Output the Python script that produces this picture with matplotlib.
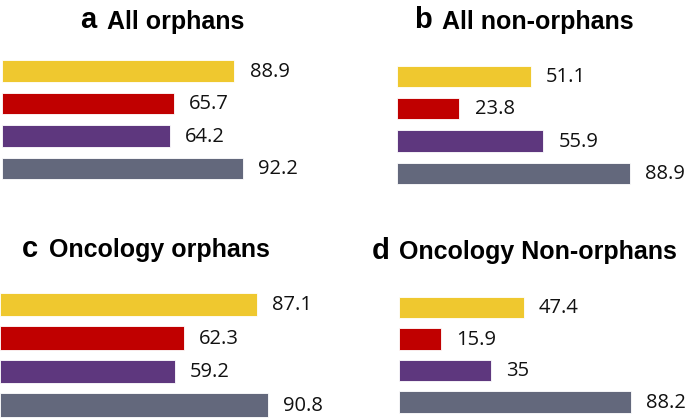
import matplotlib.pyplot as plt

# Four panels, four bars each (top to bottom)
colors = ['#EFC82F', '#C00000', '#5E377E', '#63687C']
letters = ['a', 'b', 'c', 'd']
titles = ['All orphans', 'All non-orphans', 'Oncology orphans', 'Oncology Non-orphans']
vals_a = [88.9, 65.7, 64.2, 92.2]
vals_b = [51.1, 23.8, 55.9, 88.9]
vals_c = [87.1, 62.3, 59.2, 90.8]
vals_d = [47.4, 15.9, 35, 88.2]
labels_a = ['88.9', '65.7', '64.2', '92.2']
labels_b = ['51.1', '23.8', '55.9', '88.9']
labels_c = ['87.1', '62.3', '59.2', '90.8']
labels_d = ['47.4', '15.9', '35', '88.2']

W, H = 685, 420
fig = plt.figure(figsize=(W / 100, H / 100), dpi=100)


def px_axes(x0, scale, top_center, spacing):
    # axes in pixel layout: origin x0, scale px per unit, first bar center, bar pitch
    top = top_center - spacing / 2
    height = spacing * 4
    width = scale * 100
    ax = fig.add_axes([x0 / W, 1 - (top + height) / H, width / W, height / H])
    ax.set_xlim(0, 100)
    ax.set_ylim(3.5, -0.5)
    ax.axis('off')
    return ax


# (origin px, px per unit, first bar center px, pitch px, bar height frac)
layout = [
    (1.5, 2.62, 71, 32.5, 0.66),
    (397, 2.62, 76.5, 32.3, 0.66),
    (0, 2.95, 304.5, 33.5, 0.69),
    (399, 2.63, 307.5, 31.5, 0.67),
]
all_vals = [vals_a, vals_b, vals_c, vals_d]
all_labels = [labels_a, labels_b, labels_c, labels_d]

for (x0, sc, c0, sp, bh), vals, labs in zip(layout, all_vals, all_labels):
    ax = px_axes(x0, sc, c0, sp)
    ax.barh(range(4), vals, height=bh, color=colors, edgecolor='white',
            linewidth=0.6)
    for i, (v, lab) in enumerate(zip(vals, labs)):
        ax.annotate(lab, (v, i), xytext=(11, -0.5), textcoords='offset points',
                    ha='left', va='center', fontsize=14.5, family='Open Sans',
                    color='#111111', annotation_clip=False)

# titles: (letter x, title x, baseline y)
title_pos = [(80, 107, 28.5), (414, 442, 28.5), (22, 49, 257), (372, 399, 259)]
for (lx, tx, by), let, tt in zip(title_pos, letters, titles):
    fig.text(lx / W, 1 - by / H, let, ha='left', va='baseline',
             fontsize=21, fontweight='bold', family='Liberation Sans')
    fig.text(tx / W, 1 - by / H, tt, ha='left', va='baseline',
             fontsize=18, fontweight='bold', family='Liberation Sans')

plt.savefig('out.png', dpi=100)
plt.close()
